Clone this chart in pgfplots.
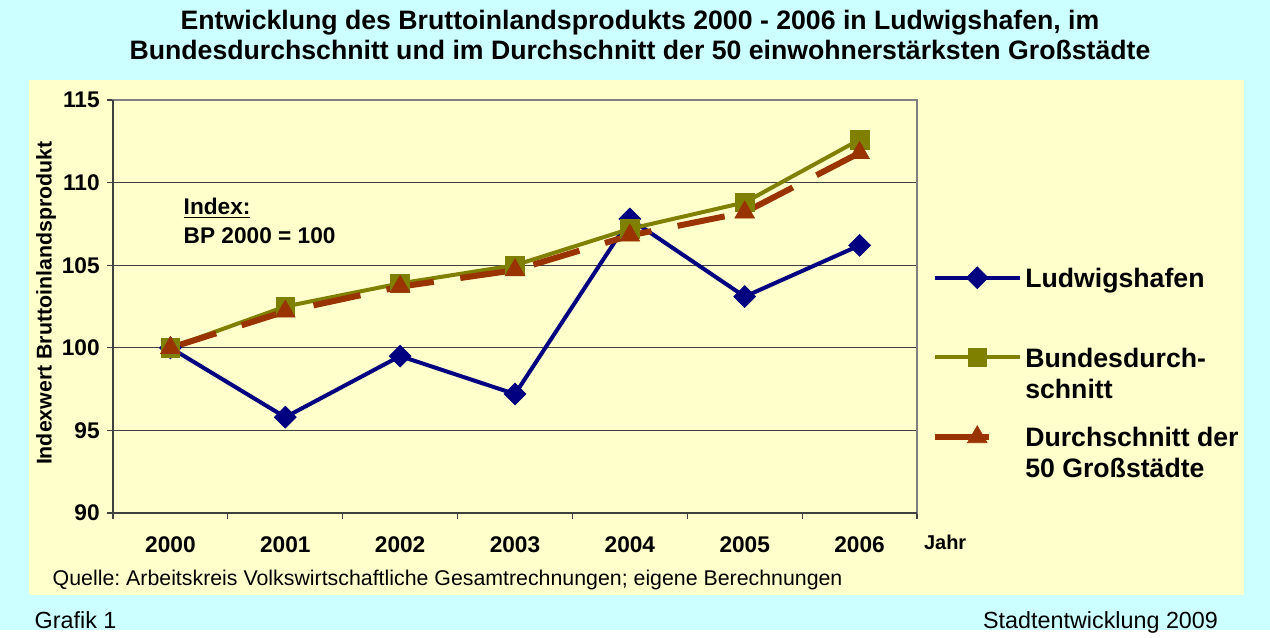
\documentclass[border=0pt]{standalone}
\usepackage{pgfplots}
\pgfplotsset{compat=1.18}
\usepackage{fontspec}
\setmainfont{Liberation Sans}
\definecolor{bgcyan}{HTML}{CCFFFF}
\definecolor{panel}{HTML}{FFFFCC}
\definecolor{navy}{HTML}{000080}
\definecolor{olivec}{HTML}{808000}
\definecolor{rust}{HTML}{993300}
\definecolor{darkax}{HTML}{404040}
\definecolor{grayax}{HTML}{808080}

\pgfplotsset{
  stdleg/.style={legend image code/.code={\path[draw=none, fill=none, use as bounding box] (0pt,-1pt) rectangle (64pt,1pt);
     \draw[mark repeat=2,mark phase=2,##1] plot coordinates {(0pt,12.4pt) (32pt,12.4pt) (64pt,12.4pt)};}},
  rustleg/.style={legend image code/.code={\path[draw=none, fill=none, use as bounding box] (0pt,-1pt) rectangle (64pt,1pt);
     \draw[mark repeat=2,mark phase=2,##1,solid] plot coordinates {(0pt,12.4pt) (32pt,12.4pt) (41pt,12.4pt)};}},
}

\pgfplotstableread{
x ludwig bund gross
0 100.0 100.0 100.0
1 95.8  102.5 102.2
2 99.5  103.9 103.7
3 97.2  105.0 104.7
4 107.8 107.2 106.8
5 103.1 108.8 108.2
6 106.2 112.6 111.8
}\gdpdata

\begin{document}
\frenchspacing
\begin{tikzpicture}
\fill[bgcyan] (0pt,0pt) rectangle (952.5pt,-472.5pt);
\fill[panel] (21.75pt,-60pt) rectangle (933pt,-446.25pt);
\node[font=\bfseries\fontsize{20}{22.5}\selectfont, align=center] at (480pt,-26.25pt)
  {Entwicklung des Bruttoinlandsprodukts 2000 - 2006 in Ludwigshafen, im\\Bundesdurchschnitt und im Durchschnitt der 50 einwohnerstärksten Großstädte};
\begin{axis}[
  at={(84.75pt,-384.75pt)}, anchor=south west,
  scale only axis, width=603pt, height=309.75pt,
  xmin=-0.5, xmax=6.5, ymin=90, ymax=115,
  clip=false,
  axis line style={draw=grayax, line width=1.5pt},
  tick align=outside,
  xtick pos=bottom, ytick pos=left,
  major tick length=4.5pt,
  tick style={draw=darkax, line width=0.9pt},
  xtick={-0.5,0.5,1.5,2.5,3.5,4.5,5.5,6.5},
  xticklabels={},
  extra x ticks={0,1,2,3,4,5,6},
  extra x tick labels={2000,2001,2002,2003,2004,2005,2006},
  extra x tick style={major tick length=0pt, grid=none,
     xticklabel style={anchor=north, yshift=-14pt}},
  ytick={90,95,100,105,110,115},
  ymajorgrids,
  major grid style={draw=darkax, line width=0.75pt},
  /pgf/number format/assume math mode=true,
  ticklabel style={font=\bfseries\fontsize{17}{18}\selectfont},
  yticklabel style={anchor=east, xshift=-2pt},
  ylabel={Indexwert Bruttoinlandsprodukt},
  ylabel style={at={(axis description cs:-0.0833,0.508)}, anchor=center,
     font=\bfseries\fontsize{16}{18}\selectfont},
  xlabel={Jahr},
  xlabel style={at={(axis description cs:1.035,-0.07)}, anchor=center,
     font=\bfseries\fontsize{15}{18}\selectfont},
  legend style={at={(1,0.600)}, anchor=north west, xshift=13pt,
     draw=none, fill=none, inner sep=0pt,
     font=\bfseries\fontsize{20}{23.25}\selectfont,
     row sep=16.5pt, column sep=2pt,
     cells={anchor=west, align=left}},
  legend cell align=left,
  stdleg,
  after end axis/.code={
    \draw[darkax, line width=1.5pt] (rel axis cs:0,1) -- (rel axis cs:0,0) -- (rel axis cs:1,0);
  },
]
\addplot[navy, line width=3pt, mark=square*, mark size=5.8pt,
   mark options={rotate=45, solid, fill=navy, draw=navy, line width=0.5pt}]
   table[x=x, y=ludwig] {\gdpdata};
\addlegendentry{Ludwigshafen\\\phantom{Sg}}
\addplot[olivec, line width=3pt, mark=square*, mark size=7pt,
   mark options={solid, fill=olivec, draw=olivec, line width=0.5pt}]
   table[x=x, y=bund] {\gdpdata};
\addlegendentry{Bundesdurch-\\schnitt}
\addplot[rust, line width=4.5pt, dash pattern=on 36pt off 20pt, mark=triangle*, mark size=8.5pt,
   mark options={solid, fill=rust, draw=rust, line width=0.5pt}, rustleg]
   table[x=x, y=gross] {\gdpdata};
\addlegendentry{Durchschnitt der\\50 Großstädte}
\node[anchor=base west, font=\bfseries\fontsize{17}{20}\selectfont] at (axis description cs:0.0821,0.722) {\underline{Index:}};
\node[anchor=base west, font=\bfseries\fontsize{17}{20}\selectfont] at (axis description cs:0.0821,0.652) {BP 2000 = 100};
\end{axis}
\node[anchor=base west, font=\fontsize{16}{18}\selectfont] at (36pt,-439pt) {Quelle: Arbeitskreis Volkswirtschaftliche Gesamtrechnungen; eigene Berechnungen};
\node[anchor=base west, font=\fontsize{17.5}{20}\selectfont] at (22.5pt,-471pt) {Grafik 1};
\node[anchor=base east, font=\fontsize{17.5}{20}\selectfont] at (917pt,-471pt) {Stadtentwicklung 2009};
\end{tikzpicture}
\end{document}
